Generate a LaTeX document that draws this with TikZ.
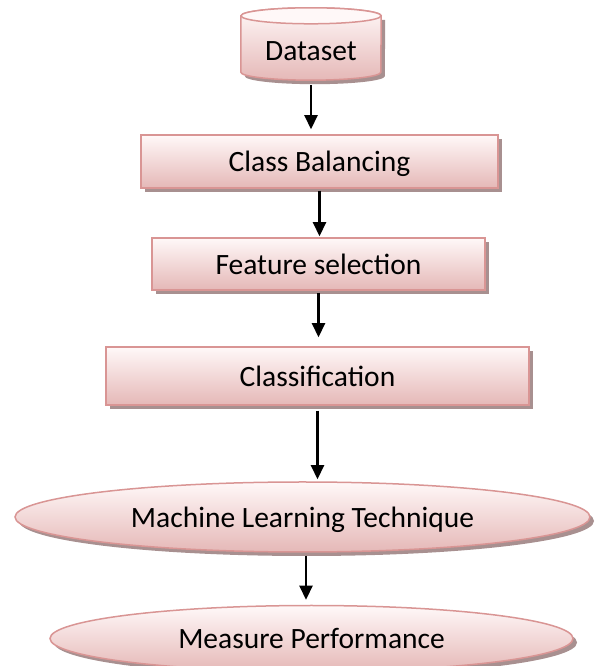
\documentclass[tikz,border=0pt]{standalone}
\usepackage{fontspec}
\setmainfont{Carlito}
\usetikzlibrary{arrows.meta,shapes.geometric,shadows,calc}
\definecolor{bd}{HTML}{D99594}
\definecolor{topc}{HTML}{FFF8F8}
\definecolor{botc}{HTML}{E5B8B7}
\definecolor{shd}{HTML}{A89090}
\pgfdeclarelayer{bg}
\pgfsetlayers{bg,main}
\begin{document}
\begin{tikzpicture}[x=1pt,y=1pt,
  lbl/.style={font=\fontsize{29.5}{34}\selectfont},
  shape common/.style={draw=bd, line width=1.5pt, top color=topc, bottom color=botc,
    general shadow={fill=shd, shadow xshift=4pt, shadow yshift=-4pt}, inner sep=0pt, lbl,
    text height=27pt, text depth=6pt},
  box/.style={rectangle, shape common},
  oval/.style={ellipse, shape common},
  arr/.style={line width=2.2pt, -{Triangle[length=14pt,width=13pt]}}]
\useasboundingbox (0,0) rectangle (598,666);

% Dataset cylinder
\node[minimum width=140pt, minimum height=72pt, inner sep=0pt] (ds) at (311,622) {};
\node[lbl] (dst) at ($(ds.center)+(0,-7)$) {Dataset};
\begin{pgfonlayer}{bg}
  \fill[shd] ($(ds.north west)+(4,-12)$) -- ($(ds.south west)+(4,4)$)
    arc[start angle=180,end angle=360,x radius=70,y radius=8]
    -- ($(ds.north east)+(4,-12)$) -- cycle;
  \path[draw=bd, line width=1.5pt, top color=topc, bottom color=botc]
    ($(ds.north west)+(0,-8)$) -- ($(ds.south west)+(0,8)$)
    arc[start angle=180,end angle=360,x radius=70,y radius=8]
    -- ($(ds.north east)+(0,-8)$)
    arc[start angle=0,end angle=180,x radius=70,y radius=8] -- cycle;
  \draw[draw=bd, line width=1.5pt, fill=topc] ($(ds.north)+(0,-8)$) ellipse [x radius=70, y radius=8];
\end{pgfonlayer}

\node[box, minimum width=357pt, minimum height=53pt] (cb) at (319.5,504.5) {Class Balancing};
\node[box, minimum width=333pt, minimum height=52pt] (fs) at (318.5,402) {Feature selection};
\node[box, minimum width=423pt, minimum height=58pt] (cl) at (317.5,290) {Classification};
\node[oval, minimum width=575pt, minimum height=70pt] (ml) at (302.5,149) {Machine Learning Technique};
\node[oval, minimum width=523pt, minimum height=66pt] (mp) at (311.5,27.5) {Measure Performance};

\draw[arr, shorten <=5pt, shorten >=5pt] (ds.south) -- (ds.south |- cb.north);
\draw[arr, shorten <=2pt, shorten >=1pt] (cb.south) -- (cb.south |- fs.north);
\draw[arr, shorten <=2pt, shorten >=9pt] (fs.south) -- (fs.south |- cl.north);
\draw[arr, shorten <=5pt, shorten >=2pt] (cl.south) -- (cl.south |- ml.north);
\draw[arr, shorten <=3pt, shorten >=5pt] ($(ml.south)+(3.5,0)$) -- ($(ml.south |- mp.north)+(3.5,0)$);
\end{tikzpicture}
\end{document}
